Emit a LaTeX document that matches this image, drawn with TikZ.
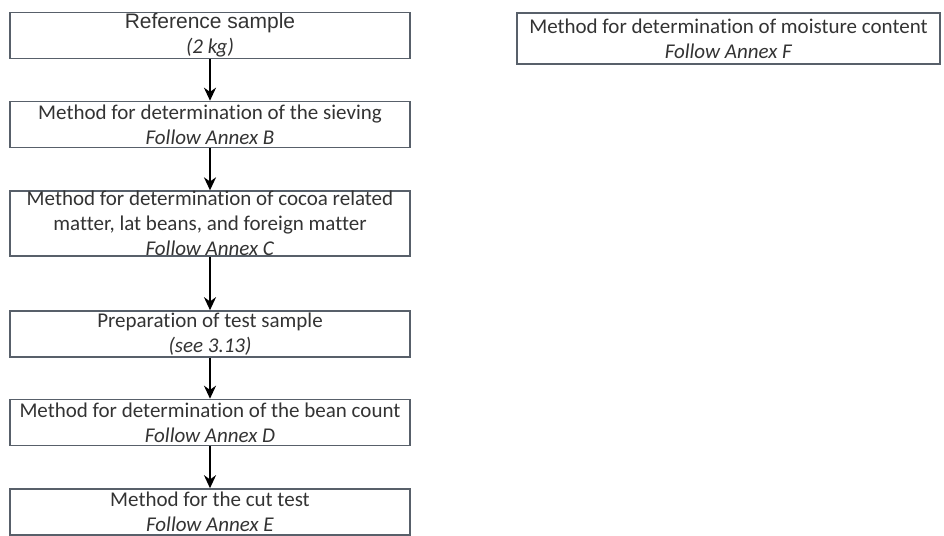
\documentclass[tikz,border=0pt]{standalone}
\usepackage{fontspec}
\setmainfont{Carlito}[Ligatures=NoCommon]
\newfontfamily\arialfont{Liberation Sans}
\usetikzlibrary{arrows.meta}

\begin{document}
\begin{tikzpicture}[x=0.5pt, y=-0.5pt,
    stepbox/.style={draw=borderColour, line width=0.8pt, text=textColour, align=center,
        minimum width=#1, minimum height=23pt, inner xsep=2pt, inner ysep=0pt,
        font=\fontsize{10.5}{12.5}\selectfont},
    stepbox/.default=200pt,
    flowarrow/.style={line width=1.2pt, -{Stealth[length=6.5pt,width=6pt]}}]
    \definecolor{borderColour}{HTML}{58606A}
    \definecolor{textColour}{HTML}{333333}

    % Page size
    \useasboundingbox (0,0) rectangle (944,536);

    % Main sequence of methods
    \node[stepbox] (ref) at (210,35.5) {{\arialfont Reference sample}\\\textit{(2 kg)}};
    \node[stepbox] (sieve) at (210,124.5) {Method for determination of the sieving\\\textit{Follow Annex B}};
    \node[stepbox] (cocoa) at (210,223.5) {Method for determination of cocoa related\\matter, lat beans, and foreign matter\\\textit{Follow Annex C}};
    \node[stepbox] (prep) at (210,334) {Preparation of test sample\\\textit{(see 3.13)}};
    \node[stepbox] (count) at (210,422.5) {Method for determination of the bean count\\\textit{Follow Annex D}};
    \node[stepbox] (cut) at (210,512) {Method for the cut test\\\textit{Follow Annex E}};

    % Separate method
    \node[stepbox=211.5pt, minimum height=25.5pt] (moist) at (728.5,38.5) {Method for determination of moisture content\\\textit{Follow Annex F}};

    % Arrows
    \foreach \a/\b in {ref/sieve, sieve/cocoa, cocoa/prep, prep/count, count/cut}
        \draw[flowarrow] (\a) -- (\b);

\end{tikzpicture}
\end{document}
